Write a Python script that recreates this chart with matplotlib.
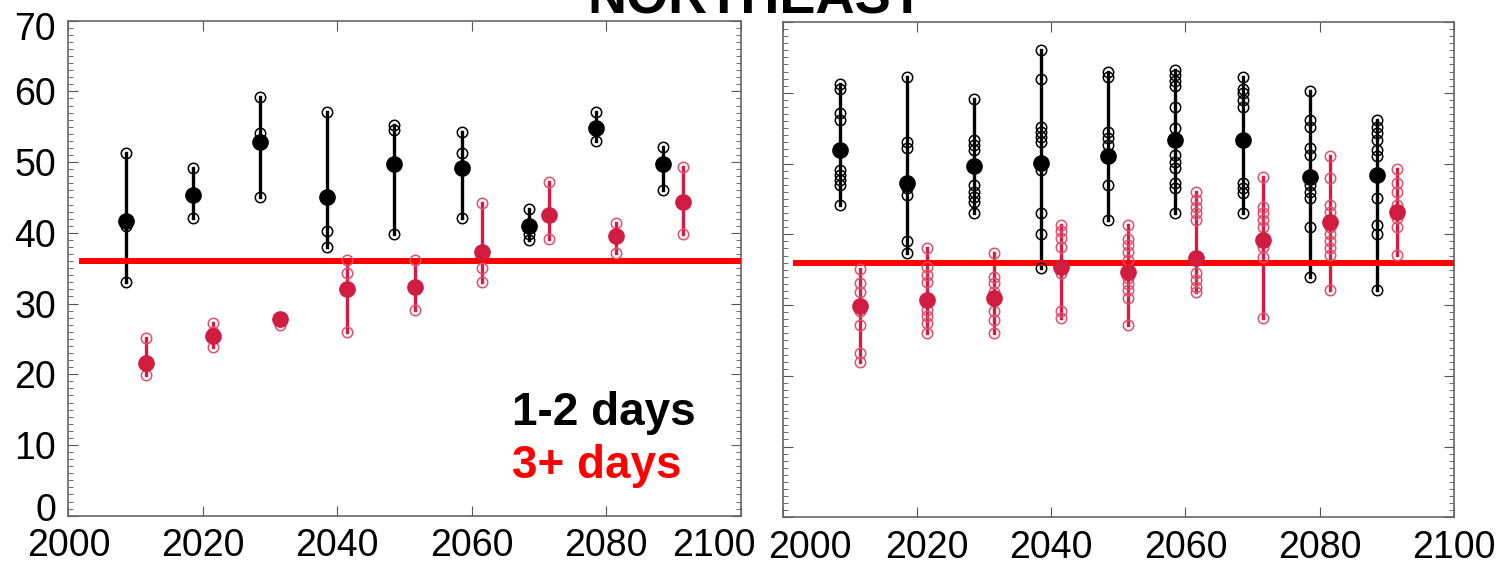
import matplotlib
matplotlib.use("Agg")
import matplotlib.pyplot as plt
from matplotlib.ticker import MultipleLocator
from matplotlib.transforms import ScaledTranslation

plt.rcParams["font.family"] = ["Liberation Sans", "DejaVu Sans"]

black_years = [2008.5, 2018.5, 2028.5, 2038.5, 2048.5, 2058.5, 2068.5, 2078.5, 2088.5]
red_years = [2011.5, 2021.5, 2031.5, 2041.5, 2051.5, 2061.5, 2071.5, 2081.5, 2091.5]
threshold = 36

# left panel: individual values (open) and mean (filled)
left_black_open = [[51.3, 40.9, 33.1], [49.1, 42.1], [59.2, 54.1, 45.1],
                   [57.1, 40.2, 38.0], [55.3, 54.6, 39.9], [54.2, 51.3, 42.1],
                   [43.3, 39.8, 39.0], [57.1, 53.0], [52.2, 46.1]]
left_black_mean = [41.7, 45.4, 52.8, 45.0, 49.7, 49.1, 40.9, 54.8, 49.8]
left_red_open = [[25.1, 19.9], [27.2, 26.0, 23.9], [28.0, 27.0],
                 [36.2, 34.3, 26.0], [36.2, 29.1], [44.2, 35.0, 33.1],
                 [47.2, 39.1], [41.4, 37.2], [49.3, 39.9]]
left_red_mean = [21.6, 25.4, 27.8, 32.0, 32.3, 37.3, 42.5, 39.5, 44.4]

# right panel
right_black_open = [
    [61.3, 60.5, 57.1, 56.2, 49.1, 48.4, 47.7, 47.0, 44.2],
    [62.2, 53.1, 52.2, 46.5, 45.6, 39.0, 37.3],
    [59.1, 53.3, 52.6, 51.9, 47.0, 46.0, 45.3, 44.6, 43.0],
    [66.0, 62.0, 55.2, 54.5, 53.8, 53.1, 49.1, 43.0, 40.1, 35.2],
    [63.0, 62.3, 54.5, 53.6, 52.6, 47.0, 42.0],
    [63.2, 62.5, 61.7, 60.9, 58.0, 55.0, 51.2, 50.2, 49.3, 47.2, 46.5, 43.0],
    [62.3, 60.6, 59.9, 59.0, 58.0, 47.2, 46.5, 45.8, 43.0],
    [60.2, 56.2, 55.2, 52.2, 51.2, 47.0, 46.0, 45.1, 41.1, 34.0],
    [56.2, 55.2, 54.3, 53.3, 51.9, 51.0, 45.1, 41.3, 40.1, 32.1],
]
right_black_mean = [51.9, 47.2, 49.7, 50.1, 51.0, 53.3, 53.3, 48.1, 48.4]
right_red_open = [
    [35.1, 33.1, 31.9, 30.0, 29.1, 27.2, 23.2, 22.0],
    [38.0, 35.4, 34.3, 33.3, 29.3, 28.4, 27.4, 26.0],
    [37.3, 34.0, 33.1, 31.9, 29.1, 27.9, 26.0],
    [41.3, 40.4, 39.5, 38.2, 35.4, 34.5, 29.1, 28.1],
    [41.3, 39.4, 38.5, 37.5, 36.3, 33.8, 33.0, 32.1, 31.0, 27.2],
    [46.0, 44.8, 43.9, 43.0, 42.0, 34.5, 33.5, 32.6, 31.9],
    [48.1, 43.9, 43.0, 42.0, 41.1, 38.2, 36.8, 28.1],
    [51.0, 47.9, 44.1, 43.2, 41.1, 40.1, 39.0, 38.0, 37.1, 32.1],
    [49.2, 47.2, 46.0, 44.1, 42.3, 41.1, 37.1],
]
right_red_mean = [29.8, 30.7, 31.0, 35.4, 34.7, 36.6, 39.2, 41.8, 43.2]

RED_LINE = "#d81b45"
RED_OPEN = "#e0506a"
RED_FILL = "#d01c40"


def draw_group(ax, years, opens, means, line_c, open_c, fill_c):
    for yr, vals, m in zip(years, opens, means):
        ax.plot([yr, yr], [min(vals), max(vals)], color=line_c, lw=2.4, zorder=2)
        ax.plot([yr] * len(vals), vals, "o", mfc="none", mec=open_c, ms=7.5,
                mew=1.1, zorder=4)
        ax.plot(yr, m, "o", color=fill_c, ms=11, zorder=5)


def shift_label(fig, label, dx_px, dy_px):
    off = ScaledTranslation(dx_px / fig.dpi, dy_px / fig.dpi, fig.dpi_scale_trans)
    label.set_transform(label.get_transform() + off)


fig = plt.figure(figsize=(15, 5.66), dpi=100)
ax = fig.add_axes([0.0456, 0.0889, 0.4481, 0.8746])
ax2 = fig.add_axes([0.5217, 0.0860, 0.4477, 0.8751])

panels = [
    (ax, left_black_open, left_black_mean, left_red_open, left_red_mean),
    (ax2, right_black_open, right_black_mean, right_red_open, right_red_mean),
]
for a, bo, bm, ro, rm in panels:
    draw_group(a, black_years, bo, bm, "black", "black", "black")
    draw_group(a, red_years, ro, rm, RED_LINE, RED_OPEN, RED_FILL)
    a.plot([2002, 2100], [threshold, threshold], color="#ff0000", lw=4.3, zorder=3)
    a.set_xlim(2000, 2100)
    a.set_ylim(0, 70)
    a.set_xticks(range(2000, 2101, 20))
    a.set_yticks(range(0, 71, 10))
    a.yaxis.set_minor_locator(MultipleLocator(1))
    a.tick_params(which="both", direction="in", top=True, right=True,
                  color="#555555")
    a.tick_params(which="major", length=7, labelsize=27, pad=9)
    a.tick_params(which="minor", length=3.5)
    for s in a.spines.values():
        s.set_color("#666666")
        s.set_linewidth(1.2)

ax2.tick_params(labelleft=False)

# nudge end labels like the original so they do not collide
xl = ax.get_xticklabels()
shift_label(fig, xl[-1], -27, 0)
yl = ax.get_yticklabels()
shift_label(fig, yl[0], 0, 9)
shift_label(fig, yl[-1], 0, -5)
xl2 = ax2.get_xticklabels()
shift_label(fig, xl2[0], 27, 0)
shift_label(fig, xl2[1], 10, 0)

ax.text(2066, 12.8, "1-2 days", fontsize=33, fontweight="bold", color="black")
ax.text(2066, 5.3, "3+ days", fontsize=33, fontweight="bold", color="#ff0000")

fig.text(0.504, 1 - 13 / 566, "NORTHEAST", ha="center", va="baseline",
         fontsize=39, fontweight="bold")

fig.savefig("out.png", dpi=100)
plt.close()
